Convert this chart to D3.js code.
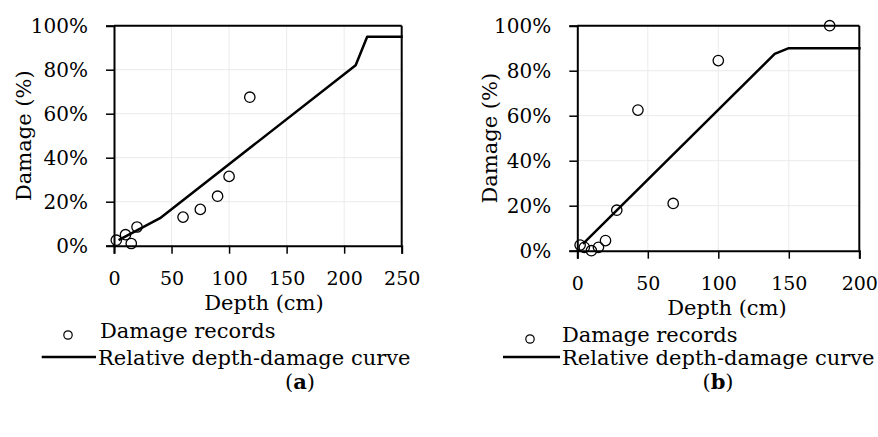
<!DOCTYPE html>
<html>
<head>
<meta charset="utf-8">
<script src="https://cdn.jsdelivr.net/npm/d3@7/dist/d3.min.js"></script>
<style>
  html, body { margin: 0; padding: 0; background: #fff; }
  svg { display: block; }
  text { font-family: "DejaVu Serif", serif; fill: #000; }
</style>
</head>
<body>
<svg id="chart" width="878" height="437"></svg>
<script>
// ---- Data ----
const xTicksA = [0, 50, 100, 150, 200, 250];
const xTicksB = [0, 50, 100, 150, 200];
const yTicks = [0, 20, 40, 60, 80, 100];

const recordDepthA  = [2, 10, 15, 20, 60, 75, 90, 100, 118];
const recordDamageA = [2.5, 5, 1, 8.5, 13, 16.5, 22.5, 31.5, 67.5];
const curveDepthA   = [4, 40, 210, 220, 251];
const curveDamageA  = [2.5, 12.5, 82, 95, 95];

const recordDepthB  = [2, 5, 10, 15, 20, 28, 43, 68, 100, 179];
const recordDamageB = [2.5, 1.5, 0, 1.5, 4.5, 18, 62.5, 21, 84.5, 100];
const curveDepthB   = [4, 140, 150, 201];
const curveDamageB  = [3, 87.5, 90, 90];

const legendLabels = ["Damage records", "Relative depth-damage curve"];
const panelLabels = ["a", "b"];
const xTitle = "Depth (cm)";
const yTitle = "Damage (%)";

// ---- Layout ----
const panels = [
  { left: 114, right: 401.7, top: 25.7, bottom: 245.7, xmax: 250, xTicks: xTicksA,
    rd: recordDepthA, rv: recordDamageA, cd: curveDepthA, cv: curveDamageA,
    yTitleX: 24, xTitleX: 264, xTitleY: 310, legCircleX: 68, legTextX: 100, legY1: 338,
    legLineX0: 41.7, legLineX1: 96, legY2: 365, labelX: 300, label: panelLabels[0] },
  { left: 577.3, right: 859.3, top: 25.7, bottom: 250.7, xmax: 200, xTicks: xTicksB,
    rd: recordDepthB, rv: recordDamageB, cd: curveDepthB, cv: curveDamageB,
    yTitleX: 490, xTitleX: 727, xTitleY: 315, legCircleX: 530, legTextX: 562, legY1: 342,
    legLineX0: 503, legLineX1: 560, legY2: 365, labelX: 718, label: panelLabels[1] }
];

const svg = d3.select("#chart");

panels.forEach(p => {
  const x = d3.scaleLinear().domain([0, p.xmax]).range([p.left, p.right]);
  const y = d3.scaleLinear().domain([0, 100]).range([p.bottom, p.top]);
  const g = svg.append("g");

  // gridlines
  g.append("g").selectAll("line").data(p.xTicks.slice(1, -1)).join("line")
    .attr("x1", d => x(d)).attr("x2", d => x(d))
    .attr("y1", p.top).attr("y2", p.bottom)
    .attr("stroke", "#ebebeb").attr("stroke-width", 1);
  g.append("g").selectAll("line").data(yTicks.slice(1, -1)).join("line")
    .attr("x1", p.left).attr("x2", p.right)
    .attr("y1", d => y(d)).attr("y2", d => y(d))
    .attr("stroke", "#ebebeb").attr("stroke-width", 1);

  // frame (top & right)
  g.append("line").attr("x1", p.left).attr("x2", p.right).attr("y1", p.top).attr("y2", p.top)
    .attr("stroke", "#000").attr("stroke-width", 2);
  g.append("line").attr("x1", p.right).attr("x2", p.right).attr("y1", p.top).attr("y2", p.bottom)
    .attr("stroke", "#000").attr("stroke-width", 2);

  // axes
  const xAxis = d3.axisBottom(x).tickValues(p.xTicks).tickSize(8).tickPadding(18).tickFormat(d3.format("d"));
  const yAxis = d3.axisLeft(y).tickValues(yTicks).tickSize(8).tickPadding(18).tickFormat(d => d + "%");
  const gx = g.append("g").attr("transform", `translate(0,${p.bottom})`).call(xAxis);
  const gy = g.append("g").attr("transform", `translate(${p.left},0)`).call(yAxis);
  [gx, gy].forEach(a => {
    a.select(".domain").attr("stroke", "#000").attr("stroke-width", 2);
    a.selectAll(".tick line").attr("stroke", "#000").attr("stroke-width", 1.5);
    a.selectAll(".tick text").attr("font-family", "DejaVu Serif").attr("fill", "#000");
  });
  gx.selectAll(".tick text").attr("font-size", 19);
  gy.selectAll(".tick text").attr("font-size", 20);

  // curve
  const pts = p.cd.map((d, i) => [d, p.cv[i]]);
  g.append("path").datum(pts)
    .attr("d", d3.line().x(d => x(d[0])).y(d => y(d[1])))
    .attr("fill", "none").attr("stroke", "#000").attr("stroke-width", 2.5)
    .attr("stroke-linejoin", "round");

  // records
  const rec = p.rd.map((d, i) => [d, p.rv[i]]);
  g.append("g").selectAll("circle").data(rec).join("circle")
    .attr("cx", d => x(d[0])).attr("cy", d => y(d[1])).attr("r", 5.2)
    .attr("fill", "none").attr("stroke", "#000").attr("stroke-width", 1.3);

  // titles
  g.append("text").attr("transform", `translate(${p.yTitleX},${(p.top + p.bottom) / 2}) rotate(-90)`)
    .attr("text-anchor", "middle").attr("dy", "0.35em").attr("font-size", 21).text(yTitle);
  g.append("text").attr("x", p.xTitleX).attr("y", p.xTitleY)
    .attr("text-anchor", "middle").attr("font-size", 21).text(xTitle);

  // legend
  g.append("circle").attr("cx", p.legCircleX).attr("cy", p.legY1 - 3).attr("r", 4.2)
    .attr("fill", "none").attr("stroke", "#000").attr("stroke-width", 1.2);
  g.append("text").attr("x", p.legTextX).attr("y", p.legY1).attr("font-size", 21).text(legendLabels[0]);
  g.append("line").attr("x1", p.legLineX0).attr("x2", p.legLineX1)
    .attr("y1", p.legY2 - 8).attr("y2", p.legY2 - 8)
    .attr("stroke", "#000").attr("stroke-width", 2.5);
  g.append("text").attr("x", p.legLineX1 + 2).attr("y", p.legY2).attr("font-size", 21).text(legendLabels[1]);

  // panel label
  const t = g.append("text").attr("x", p.labelX).attr("y", 389).attr("text-anchor", "middle").attr("font-size", 21);
  t.append("tspan").text("(");
  t.append("tspan").attr("font-weight", "bold").text(p.label);
  t.append("tspan").text(")");
});
</script>
</body>
</html>
